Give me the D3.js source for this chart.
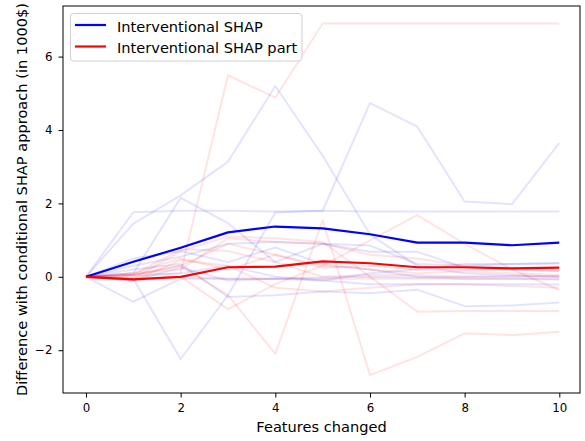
<!DOCTYPE html>
<html><head><meta charset="utf-8">
<script src="https://cdn.jsdelivr.net/npm/d3@7"></script>
<style>body{margin:0;background:#fff}svg{font-family:"DejaVu Sans",sans-serif}</style>
</head><body><svg id="c" width="585" height="441"></svg>
<script>
const steps = [0,1,2,3,4,5,6,7,8,9,10];
const xTicks = [0,2,4,6,8,10];
const yTicks = [-2,0,2,4,6];
const meanBlue = [0,0.41,0.79,1.21,1.37,1.32,1.16,0.93,0.93,0.86,0.93];
const meanRed = [0,-0.07,0.0,0.26,0.28,0.42,0.37,0.26,0.26,0.23,0.25];
const blueRuns = [
  [0,1.76,1.80,1.80,1.78,1.80,1.78,1.78,1.78,1.78,1.78],
  [0,1.45,2.22,3.14,5.2,3.3,1.15,0.3,0.1,0.05,0.0],
  [0,-0.05,-2.24,-0.5,1.75,1.8,4.73,4.09,2.05,1.98,3.65],
  [0,0.1,2.15,1.46,0.4,0.9,0.85,0.35,0.3,0.35,0.37],
  [0,-0.68,-0.05,-0.05,-0.05,-0.02,0.0,-0.02,0.0,0.0,0.0],
  [0,0.2,0.35,-0.55,-0.5,-0.4,-0.45,-0.35,-0.8,-0.78,-0.7],
  [0,0.3,0.55,0.9,0.95,0.9,0.68,0.68,0.25,0.2,0.16],
  [0,-0.1,0.25,-0.1,-0.05,-0.1,0.1,0.2,0.35,0.35,0.37],
  [0,0.05,0.1,0.3,0.0,-0.1,-0.2,-0.2,-0.2,-0.2,-0.21],
  [0,0.5,0.7,0.4,0.8,0.35,0.2,0.0,-0.05,-0.05,-0.07]
];
const redRuns = [
  [0,0.0,0.1,5.49,4.88,6.9,6.9,6.9,6.9,6.9,6.9],
  [0,0.05,0.3,-0.5,-2.1,1.54,-2.68,-2.18,-1.54,-1.59,-1.5],
  [0,-0.05,0.7,1.1,1.05,0.95,0.0,-0.95,-0.93,-0.93,-0.93],
  [0,0.1,0.5,0.2,0.6,0.3,0.99,1.68,0.9,0.2,-0.36],
  [0,-0.1,0.0,-0.88,-0.2,0.3,0.2,0.1,0.15,0.1,0.05],
  [0,0.05,0.75,0.7,0.4,0.0,0.05,0.05,0.0,0.02,0.02],
  [0,-0.05,0.0,-0.05,-0.05,-0.05,-0.05,-0.05,-0.05,-0.05,-0.05],
  [0,0.05,0.3,0.9,0.6,0.25,0.3,0.2,0.2,0.2,0.16],
  [0,-0.1,0.45,0.3,-0.3,-0.4,-0.3,-0.2,-0.2,-0.25,-0.3],
  [0,0.1,0.2,1.05,0.95,0.9,0.6,0.5,0.3,0.25,0.2]
];
const legendLabels = ["Interventional SHAP","Interventional SHAP part"];

const L=63, R=580, T=6, B=393;
const x = d3.scaleLinear().domain([-0.486,10.437]).range([L,R]);
const y = d3.scaleLinear().domain([-3.166,7.379]).range([B,T]);
const svg = d3.select("#c");
const line = d3.line().x((d,i)=>x(steps[i])).y(d=>y(d));

const g = svg.append("g");
blueRuns.forEach(r=>g.append("path").attr("d",line(r)).attr("fill","none")
  .attr("stroke","rgba(0,0,255,0.11)").attr("stroke-width",2).attr("stroke-linejoin","round"));
redRuns.forEach(r=>g.append("path").attr("d",line(r)).attr("fill","none")
  .attr("stroke","rgba(255,0,0,0.11)").attr("stroke-width",2).attr("stroke-linejoin","round"));
g.append("path").attr("d",line(meanBlue)).attr("fill","none").attr("stroke","#0000ff").attr("stroke-width",2.2).attr("stroke-linejoin","round");
g.append("path").attr("d",line(meanRed)).attr("fill","none").attr("stroke","#ff0000").attr("stroke-width",2.2).attr("stroke-linejoin","round");

// axes
const fmt = d=>String(d).replace("-","\u2212");
const xa = svg.append("g").attr("transform",`translate(0,${B})`)
  .call(d3.axisBottom(x).tickValues(xTicks).tickFormat(fmt).tickSizeOuter(0).tickSize(4.5).tickPadding(6.5));
const ya = svg.append("g").attr("transform",`translate(${L},0)`)
  .call(d3.axisLeft(y).tickValues(yTicks).tickFormat(fmt).tickSizeOuter(0).tickSize(4.5).tickPadding(6));
[xa,ya].forEach(a=>{a.select(".domain").remove();
  a.selectAll("text").attr("font-size","11.8px").attr("font-family","DejaVu Sans").attr("fill","#000");
  a.selectAll("line").attr("stroke","#000").attr("stroke-width",1);});
svg.append("rect").attr("x",L).attr("y",T).attr("width",R-L).attr("height",B-T)
  .attr("fill","none").attr("stroke","#000").attr("stroke-width",1);

svg.append("text").attr("x",(L+R)/2).attr("y",432).attr("text-anchor","middle")
  .attr("font-size","14.6px").text("Features changed");
svg.append("text").attr("transform",`translate(27,${(T+B)/2}) rotate(-90)`).attr("text-anchor","middle")
  .attr("font-size","14.6px").text("Difference with conditional SHAP approach (in 1000$)");

// legend
const lg = svg.append("g");
lg.append("rect").attr("x",70.5).attr("y",13.5).attr("width",231.5).attr("height",47.5).attr("rx",3)
  .attr("fill","rgba(255,255,255,0.8)").attr("stroke","#d0d0d0").attr("stroke-width",1);
["#0000ff","#ff0000"].forEach((c,i)=>{
  const yy = 25 + i*21.5;
  lg.append("line").attr("x1",75).attr("x2",106).attr("y1",yy).attr("y2",yy).attr("stroke",c).attr("stroke-width",2.2);
  lg.append("text").attr("x",117).attr("y",yy+6.5).attr("font-size","14.6px").text(legendLabels[i]);
});
</script></body></html>
